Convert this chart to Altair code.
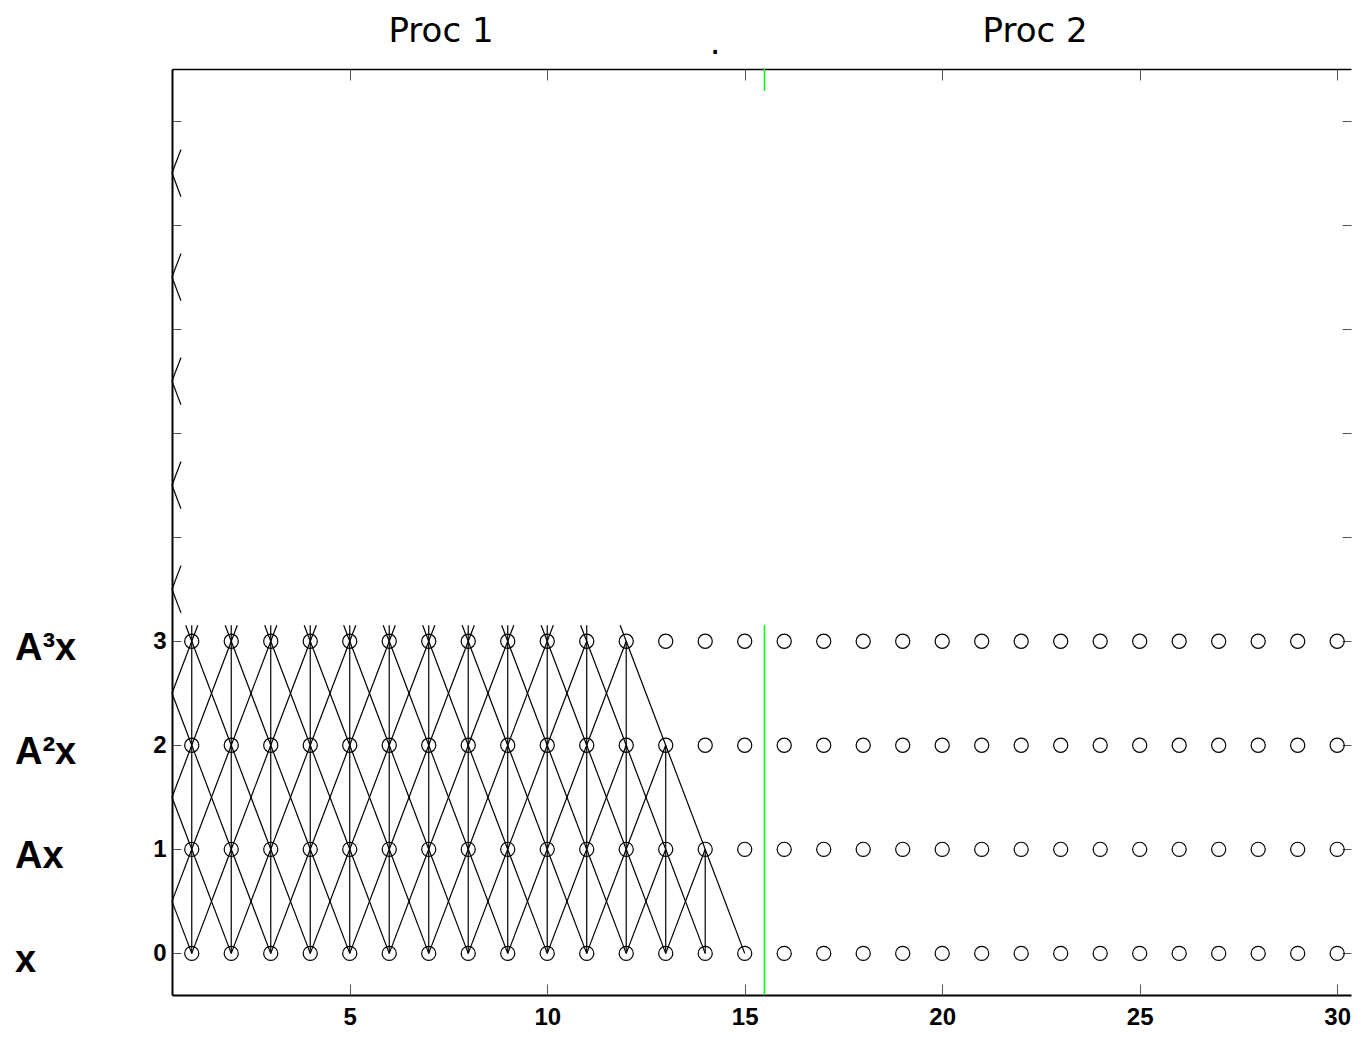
import altair as alt
import pandas as pd

# ---------------- data ----------------
columns = list(range(1, 31))            # grid columns (unknown index)
levels = [0, 1, 2, 3]                   # power of A shown
level_labels = ["\u00a0x", "Ax", "A\u00b2x", "A\u00b3x"]

# dependency diagram of the original figure: levels 0..8,
# last column reached at each level (first column is 0)
dep_levels = [0, 1, 2, 3, 4, 5, 6, 7, 8]
dep_last_col = [15, 14, 13, 12, 11, 10, 9, 8, 7]
dep_first_col = 0

proc_boundary = 15.5
x_tick_values = [5, 10, 15, 20, 25, 30]
y_tick_values = [0, 1, 2, 3, 4, 5, 6, 7, 8]
y_label_values = [0, 1, 2, 3]

titles = ["Proc 1", "Proc 2"]
title_x = [7.31, 22.35]
dot_text = ["."]
dot_x = [14.25]

# visible window of the figure (upper part of the original was blanked out)
X_DOMAIN = [0.5, 30.35]
Y_DOMAIN = [-0.4, 8.5]
blank_x0, blank_y0, blank_y1 = 0.727, 3.154, 8.29


# ---------------- geometry helpers ----------------
def lb(p0, p1, box):
    (x0, y0), (x1, y1) = p0, p1
    xmin, xmax, ymin, ymax = box
    t0, t1 = 0.0, 1.0
    dx, dy = x1 - x0, y1 - y0
    for p, q in ((-dx, x0 - xmin), (dx, xmax - x0), (-dy, y0 - ymin), (dy, ymax - y0)):
        if p == 0:
            if q < 0:
                return None
            continue
        r = q / p
        if p < 0:
            t0 = max(t0, r)
        else:
            t1 = min(t1, r)
    return (t0, t1) if t0 < t1 else None


dom_box = (X_DOMAIN[0], X_DOMAIN[1], Y_DOMAIN[0], Y_DOMAIN[1])
blank_box = (blank_x0, 1e9, blank_y0, blank_y1)


def visible(p0, p1):
    d = lb(p0, p1, dom_box)
    if d is None:
        return []
    m = lb(p0, p1, blank_box)
    pieces = []
    if m is None:
        pieces = [d]
    else:
        if d[0] < m[0]:
            pieces.append((d[0], min(d[1], m[0])))
        if m[1] < d[1]:
            pieces.append((max(d[0], m[1]), d[1]))
    out = []
    for a, b in pieces:
        if b - a > 1e-6:
            out.append(dict(
                x=p0[0] + a * (p1[0] - p0[0]), y=p0[1] + a * (p1[1] - p0[1]),
                x2=p0[0] + b * (p1[0] - p0[0]), y2=p0[1] + b * (p1[1] - p0[1])))
    return out


rows = []
for j, last in zip(dep_levels, dep_last_col):
    if j == 0:
        continue
    for i in range(dep_first_col, last + 1):
        for d in (-1, 0, 1):
            rows += visible((i, j), (i + d, j - 1))
edge_df = pd.DataFrame(rows)

green_df = pd.DataFrame(visible((proc_boundary, Y_DOMAIN[0]), (proc_boundary, Y_DOMAIN[1])))

pts_df = pd.DataFrame([dict(x=c, y=l) for l in levels for c in columns])
lab_df = pd.DataFrame(dict(level=levels, label=level_labels))
title_df = pd.DataFrame(dict(x=title_x, t=titles))
dot_df = pd.DataFrame(dict(x=dot_x, t=dot_text))

# ---------------- chart ----------------
xs = alt.Scale(domain=X_DOMAIN, nice=False, zero=False)
ys = alt.Scale(domain=Y_DOMAIN, nice=False, zero=False)
LF = "Liberation Sans"
TF = "DejaVu Sans"
TICK_COLOR = "#555555"
XT, YT = 11, 9


def tick_axis(orient, values, size):
    return alt.Axis(orient=orient, values=values, offset=-size, tickSize=size,
                    ticks=True, tickColor=TICK_COLOR, tickWidth=1,
                    labels=False, domain=False, grid=False, title=None)


edges = alt.Chart(edge_df).mark_rule(color="black", strokeWidth=1.2).encode(
    x=alt.X("x:Q", scale=xs, axis=alt.Axis(
        orient="bottom", values=x_tick_values, ticks=False, domain=True,
        domainColor="black", domainWidth=2, labelFont=LF, labelFontSize=24,
        labelFontWeight="bold", labelColor="black", labelPadding=10,
        labelFlush=False, grid=False, title=None)),
    y=alt.Y("y:Q", scale=ys, axis=alt.Axis(
        orient="left", values=y_label_values, ticks=False, domain=True,
        domainColor="black", domainWidth=2, labelFont=LF, labelFontSize=24,
        labelFontWeight="bold", labelColor="black", labelPadding=6,
        labelFlush=False, grid=False, title=None)),
    x2="x2:Q", y2="y2:Q")

points = alt.Chart(pts_df).mark_point(
    shape="circle", filled=False, size=200, color="black", strokeWidth=1.2, opacity=1
).encode(
    x=alt.X("x:Q", scale=xs, axis=tick_axis("bottom", x_tick_values, XT)),
    y=alt.Y("y:Q", scale=ys, axis=tick_axis("left", y_tick_values, YT)),
)

green = alt.Chart(green_df).mark_rule(color="#00ff00", strokeWidth=1.5).encode(
    x=alt.X("x:Q", scale=xs, axis=tick_axis("top", x_tick_values, XT)),
    y=alt.Y("y:Q", scale=ys, axis=tick_axis("right", y_tick_values, YT)),
    x2="x2:Q", y2="y2:Q")

level_text = alt.Chart(lab_df).mark_text(
    font=LF, fontSize=38, fontWeight="bold", align="left", baseline="alphabetic",
    dy=19, color="black"
).encode(
    x=alt.value(-157),
    y=alt.Y("level:Q", scale=ys, axis=None),
    text="label:N")

title_text = alt.Chart(title_df).mark_text(
    font=TF, fontSize=34, align="center", baseline="alphabetic", color="black"
).encode(
    x=alt.X("x:Q", scale=xs, axis=alt.Axis(
        orient="top", domain=True, domainColor="black", domainWidth=1.5,
        ticks=False, labels=False, grid=False, title=None)),
    y=alt.value(-27),
    text="t:N")

dot = alt.Chart(dot_df).mark_text(
    font=TF, fontSize=34, align="center", baseline="alphabetic", color="black"
).encode(
    x=alt.X("x:Q", scale=xs, axis=None),
    y=alt.value(-15),
    text="t:N")

chart = alt.layer(edges, points, green, level_text, title_text, dot).resolve_axis(
    x="independent", y="independent"
).properties(
    width=1179, height=926,
    autosize=alt.AutoSizeParams(type="none"),
    padding={"left": 164, "top": 61, "right": 2, "bottom": 35},
).configure_view(stroke=None).configure_axis(grid=False)

chart.save("out.html", embed_options={"renderer": "svg", "actions": False})
